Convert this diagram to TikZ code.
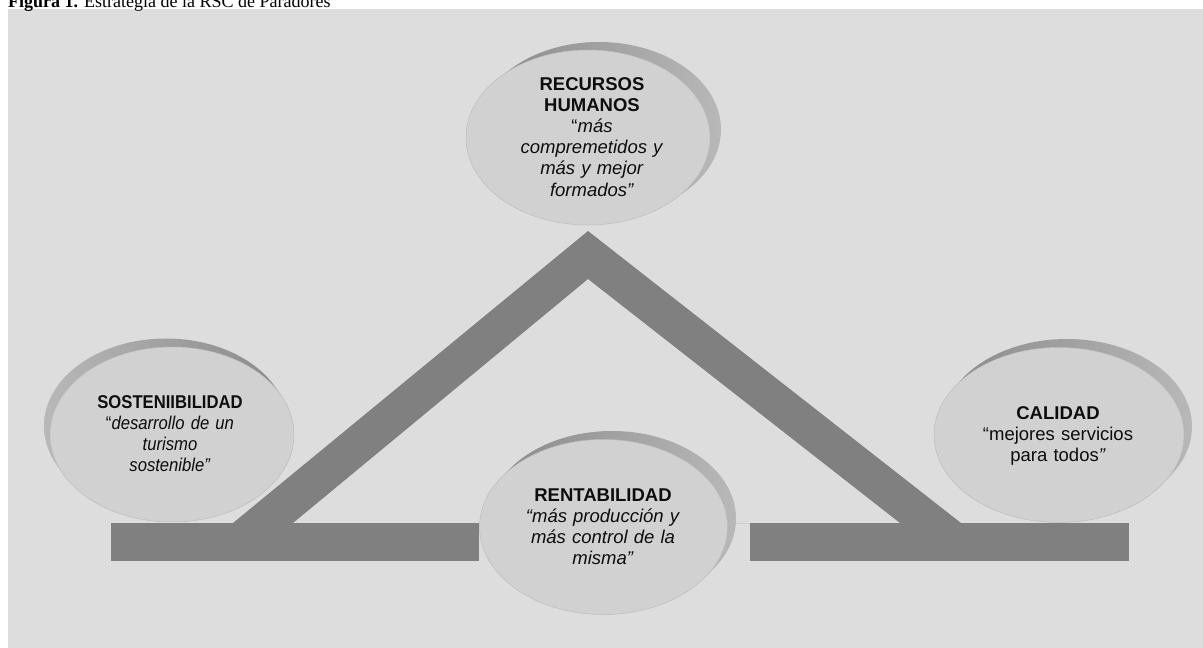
\documentclass[tikz,border=0pt]{standalone}
\usepackage{fontspec}
\setmainfont{Liberation Serif}
\newfontfamily\arialfont{Liberation Sans}
\newfontfamily\arialnarrow[FakeStretch=0.9]{Liberation Sans}
\usetikzlibrary{shapes.geometric}
\definecolor{panelgray}{HTML}{DDDDDD}
\definecolor{bargray}{HTML}{808080}
\definecolor{bubblegray}{HTML}{D1D1D1}
\definecolor{bubbleedge}{HTML}{BDBDBD}
\definecolor{shadedark}{HTML}{898989}
\definecolor{shadelight}{HTML}{B8B8B8}
\definecolor{ink}{HTML}{0D0D0D}
\tikzset{
  bubble/.style={ellipse, minimum width=244pt, minimum height=175pt, inner sep=0pt,
    fill=bubblegray, draw=bubbleedge, line width=0.5pt},
  crescent/.style={ellipse, minimum width=244pt, minimum height=175pt, inner sep=0pt, draw=none},
  bubbletext/.style={anchor=base, text width=200pt, align=center, inner sep=0pt,
    text=ink, font=\arialfont\fontsize{18.5}{21.2}\selectfont},
  barshape/.style={fill=bargray},
}
\begin{document}
\begin{tikzpicture}[x=1pt,y=-1pt]
  \useasboundingbox (0,0) rectangle (1203,648);
  % caption and panel
  \fill[panelgray] (8,9) rectangle (1203,648);
  \node[anchor=base west, inner sep=0pt, font=\fontsize{18}{20}\selectfont] (caption) at (8,7)
    {\textbf{Figura 1.} Estrategia de la RSC de Paradores};

  % triangle frame with its two base bars
  \fill[barshape, even odd rule] (233,523) -- (588,231) -- (961,523) -- cycle
                                 (293,523) -- (588,279) -- (900,523) -- cycle;
  \fill[barshape] (111,523) rectangle (479,561);
  \fill[barshape] (750,523) rectangle (1129,561);

  % bubbles: shaded crescent behind, light ellipse in front
  \node[crescent, left color=shadedark, right color=shadelight] (rhs) at (599,129.5) {};
  \node[bubble] (rh) at (588,137.5) {};
  \node[crescent, left color=shadelight, right color=shadedark] (sos) at (166,426) {};
  \node[bubble] (so) at (172,434.5) {};
  \node[crescent, minimum width=248pt, left color=shadedark, right color=shadelight] (res) at (612,518.5) {};
  \node[bubble, minimum width=248pt] (re) at (603.5,527) {};
  \node[crescent, minimum width=250pt, left color=shadedark, right color=shadelight] (cas) at (1067,426.5) {};
  \node[bubble, minimum width=250pt] (ca) at (1059,435) {};

  % bubble texts
  \node[bubbletext] (rhtext) at (592,90)
    {\textbf{RECURSOS}\\\textbf{HUMANOS}\\“\textit{más}\\\textit{compremetidos y}\\\textit{más y mejor}\\\textit{formados”}};
  \node[bubbletext, font=\arialnarrow\fontsize{18.5}{21.2}\selectfont] (sotext) at (170,408)
    {\textbf{SOSTENIIBILIDAD}\\“\textit{desarrollo de un}\\\textit{turismo}\\\textit{sostenible”}};
  \node[bubbletext] (retext) at (603,501)
    {\textbf{RENTABILIDAD}\\\textit{“más producción y}\\\textit{más control de la}\\\textit{misma”}};
  \node[bubbletext] (catext) at (1058,419)
    {\textbf{CALIDAD}\\“mejores servicios\\para todos\textit{”}};
\end{tikzpicture}
\end{document}
